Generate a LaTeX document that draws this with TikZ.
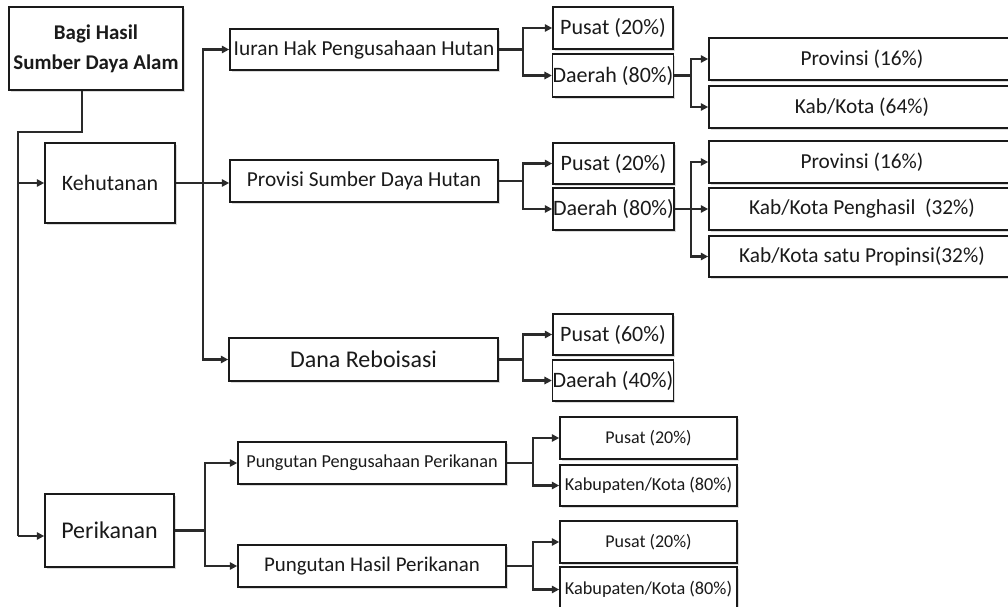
\documentclass[tikz,border=0pt]{standalone}
\usepackage{fontspec}
\setmainfont{Carlito}
\usetikzlibrary{arrows.meta,shadows,calc}
\newcommand\fsz[1]{\fontsize{#1}{#1}\selectfont}
\newcommand\bx[7]{\node[box,font=#7,minimum width={(#4-#2)*0.75pt},minimum height={(#5-#3)*0.75pt}] (#1) at ({(#2+#4)/2},{(#3+#5)/2}) {#6};}
\definecolor{ink}{HTML}{1A1A1A}
\definecolor{lnc}{HTML}{2A2A2A}
\tikzset{
  box/.style={draw=ink,line width=1.25pt,fill=white,inner sep=0pt,text=ink,align=center,
    drop shadow={shadow xshift=1.6pt,shadow yshift=-1.6pt,fill=black!14,opacity=1}},
  ln/.style={draw=lnc,line width=1.6pt},
  ar/.style={ln,-{Triangle[length=5.5pt,width=5.5pt]}},
}
\begin{document}
\begin{tikzpicture}[x=0.75pt,y=-0.75pt]
\useasboundingbox (0,0) rectangle (1008,607);
\clip (0,0) rectangle (1008,607);
\fill[white] (0,0) rectangle (1008,607);
% boxes
\bx{root}{9}{7}{183}{90}{\textbf{Bagi Hasil}\\\textbf{Sumber Daya Alam}}{\fontsize{15.7}{22.5}\selectfont}
\bx{keh}{45}{143}{175}{223}{Kehutanan}{\fsz{16.5}}
\bx{per}{45}{494}{174}{567}{Perikanan}{\fsz{18}}
\bx{iuran}{230}{29}{498}{70}{Iuran Hak Pengusahaan Hutan}{\fsz{16}}
\bx{prov}{230}{160}{498}{202}{Provisi Sumber Daya Hutan}{\fsz{16}}
\bx{dana}{229}{338}{498}{381}{Dana Reboisasi}{\fsz{18}}
\bx{pusat1}{553}{7}{673}{49}{Pusat (20\%)}{\fsz{16.5}}
\bx{daerah1}{553}{54}{673}{97}{Daerah (80\%)}{\fsz{16.5}}
\bx{pusat2}{553}{143}{674}{184}{Pusat (20\%)}{\fsz{16.5}}
\bx{daerah2}{553}{188}{674}{230}{Daerah (80\%)}{\fsz{16.5}}
\bx{pusat3}{553}{314}{673}{355}{Pusat (60\%)}{\fsz{16.5}}
\bx{daerah3}{553}{360}{673}{401}{Daerah (40\%)}{\fsz{16.5}}
\bx{prv1}{709}{38}{1015}{80}{Provinsi (16\%)}{\fsz{16}}
\bx{kab1}{709}{86}{1015}{128}{Kab/Kota (64\%)}{\fsz{16}}
\bx{prv2}{709}{141}{1015}{183}{Provinsi (16\%)}{\fsz{16}}
\bx{kabp}{709}{188}{1015}{230}{Kab/Kota Penghasil \ (32\%)}{\fsz{16}}
\bx{kabs}{709}{236}{1015}{277}{Kab/Kota satu Propinsi(32\%)}{\fsz{16}}
\bx{ppp}{238}{442}{506}{484}{Pungutan Pengusahaan Perikanan}{\fsz{13.7}}
\bx{php}{238}{545}{506}{587}{Pungutan Hasil Perikanan}{\fsz{15.7}}
\bx{pusat4}{560}{417}{737}{459}{Pusat (20\%)}{\fsz{13.5}}
\bx{kab4}{560}{465}{737}{506}{Kabupaten/Kota (80\%)}{\fsz{13.7}}
\bx{pusat5}{560}{521}{737}{563}{Pusat (20\%)}{\fsz{13.5}}
\bx{kab5}{560}{567}{737}{612}{Kabupaten/Kota (80\%)}{\fsz{13.7}}
% fork coordinates
\coordinate (tl) at (18,132);
\coordinate (f1) at (203,0);
\coordinate (f2) at (523,0);
\coordinate (f3) at (691,0);
\coordinate (f4) at (205,0);
\coordinate (f5) at (533,0);
\coordinate (pin) at ($(per.west)+(0,5.5)$);
% root trunk
\draw[ln] ($(root.south)+(-14,0)$) |- (tl) -- (tl |- pin);
\draw[ar] (tl |- keh.west) -- (keh.west);
\draw[ar] (tl |- pin) -- (pin);
% Kehutanan
\draw[ar] (keh.east) -- (keh.east -| prov.west);
\draw[ar] (f1 |- keh.east) |- (iuran.west);
\draw[ar] (f1 |- keh.east) |- (dana.west);
% level 2 (Kehutanan)
\draw[ln] (iuran.east) -- (f2 |- iuran.east);
\draw[ar] (f2 |- iuran.east) |- (pusat1.west);
\draw[ar] (f2 |- iuran.east) |- (daerah1.west);
\draw[ln] (prov.east) -- (f2 |- prov.east);
\draw[ar] (f2 |- prov.east) |- (pusat2.west);
\draw[ar] (f2 |- prov.east) |- (daerah2.west);
\draw[ln] (dana.east) -- (f2 |- dana.east);
\draw[ar] (f2 |- dana.east) |- (pusat3.west);
\draw[ar] (f2 |- dana.east) |- (daerah3.west);
% level 3
\draw[ln] (daerah1.east) -- (f3 |- daerah1.east);
\draw[ar] (f3 |- daerah1.east) |- (prv1.west);
\draw[ar] (f3 |- daerah1.east) |- (kab1.west);
\draw[ar] (daerah2.east) -- (kabp.west);
\draw[ar] (f3 |- daerah2.east) |- (prv2.west);
\draw[ar] (f3 |- daerah2.east) |- (kabs.west);
% Perikanan
\draw[ln] (per.east) -- (f4 |- per.east);
\draw[ar] (f4 |- per.east) |- (ppp.west);
\draw[ar] (f4 |- per.east) |- (php.west);
\draw[ln] (ppp.east) -- (f5 |- ppp.east);
\draw[ar] (f5 |- ppp.east) |- (pusat4.west);
\draw[ar] (f5 |- ppp.east) |- (kab4.west);
\draw[ln] (php.east) -- (f5 |- php.east);
\draw[ar] (f5 |- php.east) |- (pusat5.west);
\draw[ar] (f5 |- php.east) |- (kab5.west);
\end{tikzpicture}
\end{document}
